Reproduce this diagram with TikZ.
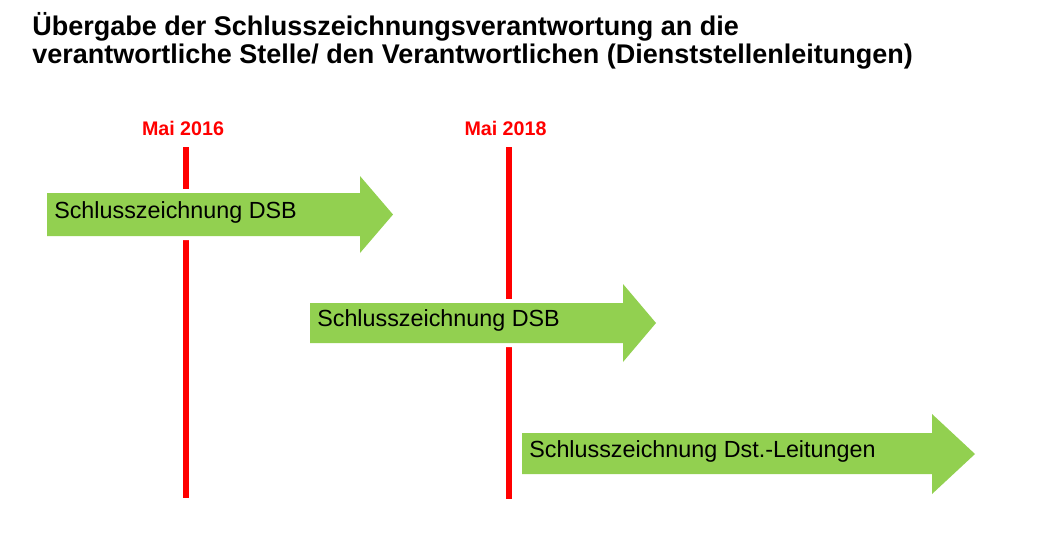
\documentclass[tikz,border=0pt]{standalone}
\usepackage{fontspec}
\setmainfont{Liberation Sans}
\definecolor{arrowgreen}{HTML}{92D050}
\definecolor{markred}{HTML}{FF0000}
\begin{document}
\begin{tikzpicture}[x=0.75pt,y=-0.75pt,
  titletext/.style={anchor=base west,inner sep=0pt,font=\fontsize{20.25pt}{24pt}\selectfont\bfseries},
  datelabel/.style={anchor=base,inner sep=0pt,text=markred,font=\fontsize{14.75pt}{17pt}\selectfont\bfseries},
  markline/.style={draw=markred,line width=4.5pt},
  phase/.style={fill=arrowgreen,preaction={draw=white,line width=6pt,line join=miter}},
  phasetext/.style={anchor=base west,inner sep=0pt,font=\fontsize{17.5pt}{21pt}\selectfont}]
\useasboundingbox (0,0) rectangle (1056,544);
\fill[white] (0,0) rectangle (1056,544);
\node[titletext] (t1) at (32,35) {Übergabe der Schlusszeichnungsverantwortung an die};
\node[titletext] (t2) at (32,63) {verantwortliche Stelle/ den Verantwortlichen (Dienststellenleitungen)};
\node[datelabel] (d1) at (183,135) {Mai 2016};
\node[datelabel] (d2) at (505.5,135) {Mai 2018};
\coordinate (l1top) at (186,147);
\coordinate (l1bot) at (186,498);
\coordinate (l2top) at (509,147);
\coordinate (l2bot) at (509,499);
\draw[markline] (l1top) -- (l1bot);
\draw[markline] (l2top) -- (l2bot);
\path[phase] (47,193) -- (360,193) -- (360,176) -- (393,214.5) -- (360,253) -- (360,236) -- (47,236) -- cycle;
\path[phase] (310,303) -- (623,303) -- (623,284) -- (656,323) -- (623,362) -- (623,343) -- (310,343) -- cycle;
\path[phase] (522,433) -- (932,433) -- (932,414) -- (975,454) -- (932,494) -- (932,474) -- (522,474) -- cycle;
\node[phasetext] (p1) at (54,218) {Schlusszeichnung DSB};
\node[phasetext] (p2) at (317,326) {Schlusszeichnung DSB};
\node[phasetext] (p3) at (529,457) {Schlusszeichnung Dst.-Leitungen};
\end{tikzpicture}
\end{document}
